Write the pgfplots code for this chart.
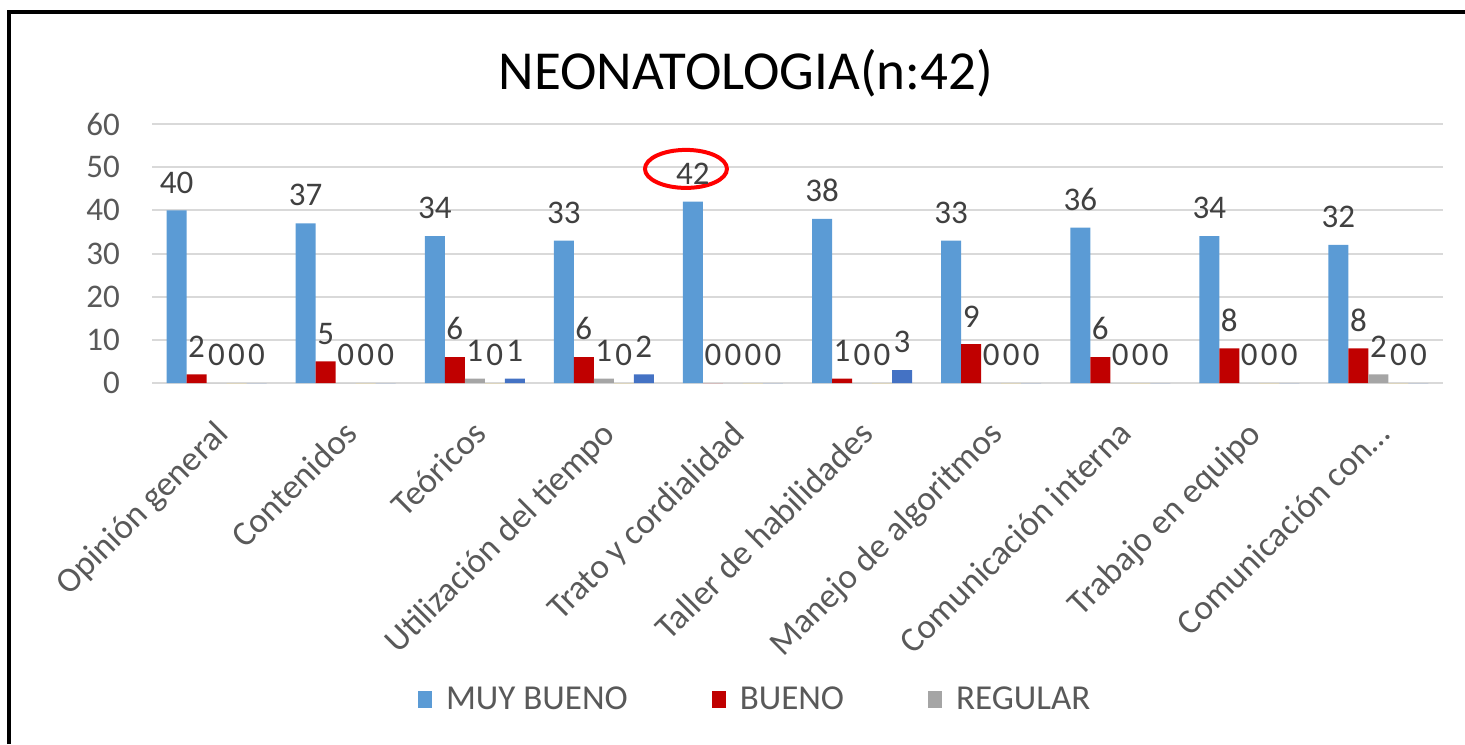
\documentclass[border=0pt]{standalone}
\usepackage{pgfplots}
\pgfplotsset{compat=1.18}
\usepackage{fontspec}
\setmainfont{Carlito}
\definecolor{c1}{HTML}{5B9BD5}
\definecolor{c2}{HTML}{C00000}
\definecolor{c3}{HTML}{A5A5A5}
\definecolor{c4}{HTML}{FFC000}
\definecolor{c5}{HTML}{4472C4}
\definecolor{gridc}{HTML}{D9D9D9}
\definecolor{tickc}{HTML}{595959}
\definecolor{labc}{HTML}{404040}
\pgfplotsset{
  /pgf/number format/assume math mode=true,
  mybar/.style 2 args={ybar, bar width=10pt, bar shift=#2, draw=none, fill=#1,
    nodes near coords,
    every node near coord/.append style={font=\fontsize{16.5}{18}\selectfont, color=labc, xshift=#2, yshift=5pt}},
}
\begin{document}
\begin{tikzpicture}
\useasboundingbox (0,0) rectangle (732.5pt,372pt);
\draw[line width=2pt] (4.5pt,0) -- (4.5pt,366pt) -- (732.5pt,366pt);
\begin{axis}[
  at={(76pt,180.5pt)}, anchor=south west,
  scale only axis, width=645.5pt, height=129.5pt,
  xmin=-0.5, xmax=9.5, ymin=0, ymax=60,
  clip=false,
  axis line style={draw=none},
  tick style={draw=none},
  ymajorgrids, grid style={gridc, line width=1pt},
  ytick={0,10,...,60},
  yticklabel style={font=\fontsize{16.5}{18}\selectfont, color=tickc, xshift=-12.5pt},
  xtick={0,...,9},
  xticklabels={Opinión general, Contenidos, Teóricos, Utilización del tiempo, Trato y cordialidad, Taller de habilidades, Manejo de algoritmos, Comunicación interna, Trabajo en equipo, Comunicación con…},
  xticklabel style={font=\fontsize{17.5}{19}\selectfont, color=tickc, xshift=-2pt, yshift=-13pt, rotate=45, anchor=north east},
  title={NEONATOLOGIA(n:42)},
  title style={font=\fontsize{27.5}{30}\selectfont, at={(0.46,1.151)}, anchor=center},
  legend columns=3,
  legend style={draw=none, at={(0.468,-1.224)}, anchor=center,
    font=\fontsize{17.5}{19}\selectfont, text=tickc,
    /tikz/every odd column/.append style={column sep=5pt},
    /tikz/every even column/.append style={column sep=40pt}},
  legend image code/.code={\fill[#1] (0pt,-4pt) rectangle (7pt,4.5pt);},
]
\addplot[mybar={c1}{-20pt}] coordinates {(0,40) (1,37) (2,34) (3,33) (4,42) (5,38) (6,33) (7,36) (8,34) (9,32)};
\addlegendentry{MUY BUENO}
\addplot[mybar={c2}{-10pt}] coordinates {(0,2) (1,5) (2,6) (3,6) (4,0) (5,1) (6,9) (7,6) (8,8) (9,8)};
\addlegendentry{BUENO\hspace{7pt}}
\addplot[mybar={c3}{0pt}] coordinates {(0,0) (1,0) (2,1) (3,1) (4,0) (5,0) (6,0) (7,0) (8,0) (9,2)};
\addlegendentry{REGULAR}
\addplot[mybar={c4}{10pt}, forget plot] coordinates {(0,0) (1,0) (2,0) (3,0) (4,0) (5,0) (6,0) (7,0) (8,0) (9,0)};
\addplot[mybar={c5}{20pt}, forget plot] coordinates {(0,0) (1,0) (2,1) (3,2) (4,0) (5,3) (6,0) (7,0) (8,0) (9,0)};
\draw[red, line width=2pt] (axis cs:3.636,49.6) ellipse [x radius=20.5pt, y radius=9.5pt];
\end{axis}
\end{tikzpicture}
\end{document}
